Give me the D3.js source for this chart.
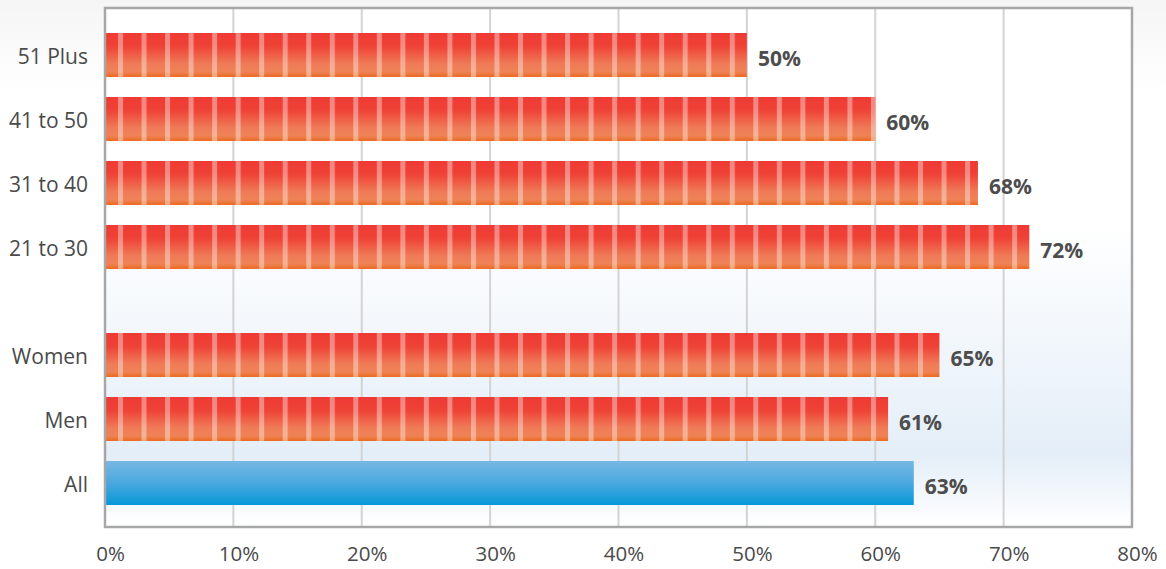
<!DOCTYPE html>
<html>
<head>
<meta charset="utf-8">
<script src="https://cdn.jsdelivr.net/npm/d3@7"></script>
<style>
  html, body { margin: 0; padding: 0; }
  body { width: 1166px; height: 569px; overflow: hidden; }
  svg { display: block; }
</style>
</head>
<body>
<svg id="chart" width="1166" height="569"></svg>
<script>
// ---- data ----
const ageCategories = ["51 Plus", "41 to 50", "31 to 40", "21 to 30"];
const ageValues = [50, 60, 68, 72];
const genderCategories = ["Women", "Men", "All"];
const genderValues = [65, 61, 63];
const highlightCategory = "All";
const xTicks = [0, 10, 20, 30, 40, 50, 60, 70, 80];

// ---- layout ----
const W = 1166, H = 569;
const frame = { left: 105, right: 1132, top: 8, bottom: 527 };
const svg = d3.select("#chart");
const defs = svg.append("defs");

// page background
const pageGrad = defs.append("linearGradient").attr("id", "pageBg").attr("x1", 0).attr("y1", 0).attr("x2", 0).attr("y2", 1);
pageGrad.append("stop").attr("offset", "0").attr("stop-color", "#f5f5f5");
pageGrad.append("stop").attr("offset", "0.16").attr("stop-color", "#ffffff");
pageGrad.append("stop").attr("offset", "1").attr("stop-color", "#ffffff");
svg.append("rect").attr("width", W).attr("height", H).attr("fill", "url(#pageBg)");

// plot background
const plotGrad = defs.append("linearGradient").attr("id", "plotBg").attr("x1", 0).attr("y1", 0).attr("x2", 0).attr("y2", 1);
plotGrad.append("stop").attr("offset", "0").attr("stop-color", "#ffffff");
plotGrad.append("stop").attr("offset", "0.42").attr("stop-color", "#ffffff");
plotGrad.append("stop").attr("offset", "0.86").attr("stop-color", "#e4eef8");
plotGrad.append("stop").attr("offset", "1").attr("stop-color", "#ffffff");

// bar gradients
const redGrad = defs.append("linearGradient").attr("id", "redBar").attr("x1", 0).attr("y1", 0).attr("x2", 0).attr("y2", 1);
[["0", "#ee3a34"], ["0.3", "#ef4236"], ["0.7", "#ef7b57"], ["0.88", "#ef8256"], ["1", "#eb6a22"]]
  .forEach(([o, c]) => redGrad.append("stop").attr("offset", o).attr("stop-color", c));
const blueGrad = defs.append("linearGradient").attr("id", "blueBar").attr("x1", 0).attr("y1", 0).attr("x2", 0).attr("y2", 1);
[["0", "#76b8e4"], ["0.5", "#4aa8de"], ["1", "#0698d8"]]
  .forEach(([o, c]) => blueGrad.append("stop").attr("offset", o).attr("stop-color", c));

// stripe pattern
const stripe = defs.append("pattern").attr("id", "stripes")
  .attr("patternUnits", "userSpaceOnUse")
  .attr("x", 118).attr("y", 0).attr("width", 23.53).attr("height", 20);
stripe.append("rect").attr("x", 0).attr("y", 0).attr("width", 5).attr("height", 20)
  .attr("fill", "#ffffff").attr("fill-opacity", 0.38);

// scales
const x = d3.scaleLinear().domain([0, 80]).range([frame.left, frame.right]);
const yAge = d3.scaleBand().domain(ageCategories).range([23, 279]).paddingInner(0.3125).paddingOuter(0.15625);
const yGender = d3.scaleBand().domain(genderCategories).range([323, 515]).paddingInner(0.3125).paddingOuter(0.15625);

svg.append("rect")
  .attr("x", frame.left).attr("y", frame.top)
  .attr("width", frame.right - frame.left).attr("height", frame.bottom - frame.top)
  .attr("fill", "url(#plotBg)");

// gridlines
svg.append("g").selectAll("line").data(xTicks.filter(t => t > 0 && t < 80)).join("line")
  .attr("x1", d => x(d)).attr("x2", d => x(d))
  .attr("y1", frame.top).attr("y2", frame.bottom)
  .attr("stroke", "#d3d3d3").attr("stroke-width", 2);

// bars
const rows = ageCategories.map((c, i) => ({ cat: c, value: ageValues[i], y: yAge(c), h: yAge.bandwidth() }))
  .concat(genderCategories.map((c, i) => ({ cat: c, value: genderValues[i], y: yGender(c), h: yGender.bandwidth() })));

const barG = svg.append("g");
barG.selectAll("rect.bar").data(rows).join("rect").attr("class", "bar")
  .attr("x", x(0)).attr("y", d => d.y)
  .attr("width", d => x(d.value) - x(0)).attr("height", d => d.h)
  .attr("fill", d => d.cat === highlightCategory ? "url(#blueBar)" : "url(#redBar)");
barG.selectAll("rect.stripe").data(rows.filter(d => d.cat !== highlightCategory)).join("rect").attr("class", "stripe")
  .attr("x", x(0)).attr("y", d => d.y)
  .attr("width", d => x(d.value) - x(0)).attr("height", d => d.h)
  .attr("fill", "url(#stripes)");

// value labels
svg.append("g").selectAll("text").data(rows).join("text")
  .attr("x", d => x(d.value) + 11)
  .attr("y", d => d.y + d.h / 2 + 11)
  .attr("font-family", "'Open Sans', sans-serif")
  .attr("font-weight", 700).attr("font-size", 21)
  .attr("fill", "#4d4d4d")
  .text(d => d.value + "%");

// category labels
svg.append("g").selectAll("text").data(rows).join("text")
  .attr("x", 88)
  .attr("y", d => d.y + d.h / 2 + 9)
  .attr("text-anchor", "end")
  .attr("font-family", "'Open Sans', sans-serif")
  .attr("font-size", 21)
  .attr("fill", "#4a4a4a")
  .text(d => d.cat);

// x axis
const xAxis = d3.axisBottom(x).tickValues(xTicks).tickFormat(d => d + "%").tickSize(0).tickPadding(0);
const ax = svg.append("g").attr("transform", `translate(5, ${frame.bottom})`).call(xAxis);
ax.select(".domain").remove();
ax.selectAll("text")
  .attr("y", 34).attr("dy", 0)
  .attr("font-family", "'Open Sans', sans-serif")
  .attr("font-size", 20.5)
  .attr("fill", "#4a4a4a");

// frame
svg.append("rect")
  .attr("x", frame.left).attr("y", frame.top)
  .attr("width", frame.right - frame.left).attr("height", frame.bottom - frame.top)
  .attr("fill", "none").attr("stroke", "#a7a7a7").attr("stroke-width", 2.5);
</script>
</body>
</html>
